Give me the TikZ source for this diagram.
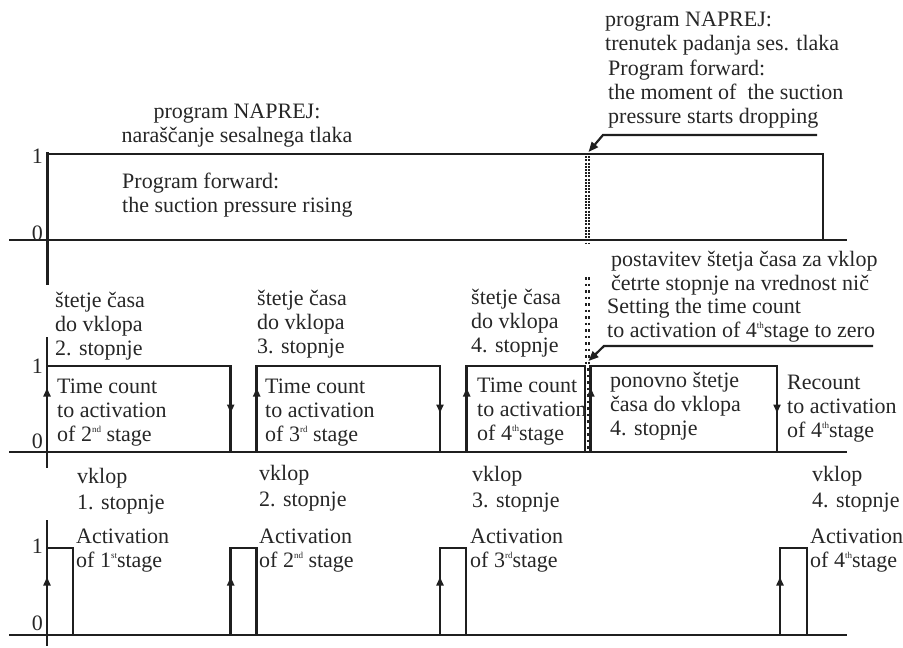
\documentclass[tikz,border=0pt]{standalone}
\usepackage{fontspec}
\setmainfont{Liberation Serif}
\usetikzlibrary{arrows.meta}
\newcommand{\ordsup}[1]{\raisebox{0.85ex}{\fontsize{9}{9}\selectfont #1}}
\newcommand{\fsz}{\fontsize{22}{23.6}\selectfont}
\newcommand{\fszw}{\fontsize{22}{25.5}\selectfont}
\begin{document}
\begin{tikzpicture}[x=1pt,y=-1pt,
  sig/.style={line width=2.9pt, line join=miter, color=black!88},
  axisline/.style={line width=2.8pt, color=black!88},
  txt/.style={anchor=base west, inner sep=0pt, align=left, font=\fsz, color=black!85},
  wtxt/.style={txt, font=\fszw},
  ctxt/.style={anchor=base, inner sep=0pt, align=center, font=\fsz, color=black!85},
  lvl/.style={anchor=base east, inner sep=0pt, font=\fsz, color=black!85},
  tip/.style={line width=2.6pt, color=black!88, -{Triangle[length=8.5pt,width=7pt]}},
  leader/.style={line width=2.2pt, color=black!88, -{Triangle[length=10pt,width=8pt]}},
  dotA/.style={line width=1.8pt, color=black!88, dash pattern=on 2pt off 1.2pt},
  dotB/.style={line width=1.7pt, color=black!88, dash pattern=on 2.5pt off 4pt}]
\useasboundingbox (0,0) rectangle (903,648);

% ---------------- panel 1 ----------------
\draw[axisline] (47.5,152) -- (47.5,285);
\draw[axisline] (9,240) -- (847,240);
\draw[sig] (47.5,154) -- (823,154) -- (823,240);
\node[lvl] (p1one) at (43,163) {1};
\node[lvl] (p1zero) at (43,240) {0};
\draw[dotA] (585.7,153) -- (585.7,243);
\draw[dotA] (589.3,153) -- (589.3,243);

\node[ctxt] (t1) at (237,142.5) {program NAPREJ:\\naraščanje sesalnega tlaka};
\node[txt] (t2) at (122,212) {Program forward:\\the suction pressure rising};
\node[txt] (t3) at (605,50.5) {program NAPREJ:\\trenutek padanja ses. tlaka};
\node[txt] (t4) at (608,123) {Program forward:\\the moment of~ the suction\\pressure starts dropping};
\coordinate (l1a) at (817,135);
\coordinate (l1b) at (603,135);
\coordinate (l1c) at (588.5,152);
\draw[leader] (l1a) -- (l1b) -- (l1c);

% ---------------- panel 2 ----------------
\draw[axisline] (47,337) -- (47,468);
\draw[axisline] (9,452) -- (847,452);
\draw[sig] (47,452) -- (47,366) -- (230.7,366) -- (230.7,452);
\draw[sig] (256.7,452) -- (256.7,366) -- (440,366) -- (440,452);
\draw[sig] (466.7,452) -- (466.7,366) -- (585,366) -- (585,452);
\draw[sig] (590.8,452) -- (590.8,366) -- (777,366) -- (777,452);
\node[lvl] (p2one) at (43,373) {1};
\node[lvl] (p2zero) at (43,448) {0};
\draw[tip] (47,402) -- (47,388);
\draw[tip] (256.7,402) -- (256.7,388);
\draw[tip] (466.7,402) -- (466.7,388);
\draw[tip] (590.8,402) -- (590.8,388);
\draw[tip] (230.7,399) -- (230.7,413);
\draw[tip] (440,399) -- (440,413);
\draw[tip] (777,399) -- (777,413);
\draw[dotB] (586.2,277) -- (586.2,364);
\draw[dotB] (589.2,277) -- (589.2,364);
\draw[dotB] (587.8,368) -- (587.8,452);

\node[txt] (s1) at (55,355) {štetje časa\\do vklopa\\2. stopnje};
\node[txt] (s2) at (257,353) {štetje časa\\do vklopa\\3. stopnje};
\node[txt] (s3) at (471,352) {štetje časa\\do vklopa\\4. stopnje};
\node[txt] (s4) at (611,290) {postavitev štetja časa za vklop\\četrte stopnje na vrednost nič};
\node[txt] (s5) at (607,337) {Setting the time count\\to activation of 4\ordsup{th}stage to zero};
\coordinate (l2a) at (873,346);
\coordinate (l2b) at (604,346);
\coordinate (l2c) at (588.5,361);
\draw[leader] (l2a) -- (l2b) -- (l2c);

\node[txt] (r1) at (57,441) {Time count\\to activation\\of 2\ordsup{nd} stage};
\node[txt] (r2) at (265,441) {Time count\\to activation\\of 3\ordsup{rd} stage};
\node[txt] (r3) at (477,440) {Time count\\to activation\\of 4\ordsup{th}stage};
\node[txt] (r4) at (610,435) {ponovno štetje\\časa do vklopa\\4. stopnje};
\node[txt] (r5) at (787,437) {Recount\\to activation\\of 4\ordsup{th}stage};

% ---------------- panel 3 ----------------
\draw[axisline] (47,520) -- (47,646);
\draw[axisline] (9,635) -- (847,635);
\draw[sig] (47,635) -- (47,548) -- (73,548) -- (73,635);
\draw[sig] (230.7,635) -- (230.7,548) -- (256.7,548) -- (256.7,635);
\draw[sig] (440,635) -- (440,548) -- (466,548) -- (466,635);
\draw[sig] (780,635) -- (780,548) -- (807,548) -- (807,635);
\node[lvl] (p3one) at (43,553) {1};
\node[lvl] (p3zero) at (43,630) {0};
\draw[tip] (47,591) -- (47,577);
\draw[tip] (230.7,591) -- (230.7,577);
\draw[tip] (440,591) -- (440,577);
\draw[tip] (780,591) -- (780,577);

\node[wtxt] (v1) at (77,509) {vklop\\1. stopnje};
\node[wtxt] (v2) at (259,506) {vklop\\2. stopnje};
\node[wtxt] (v3) at (472,507) {vklop\\3. stopnje};
\node[wtxt] (v4) at (812,507) {vklop\\4. stopnje};
\node[txt] (a1) at (76,567) {Activation\\of 1\ordsup{st}stage};
\node[txt] (a2) at (259,567) {Activation\\of 2\ordsup{nd} stage};
\node[txt] (a3) at (470,567) {Activation\\of 3\ordsup{rd}stage};
\node[txt] (a4) at (810,567) {Activation\\of 4\ordsup{th}stage};
\end{tikzpicture}
\end{document}
